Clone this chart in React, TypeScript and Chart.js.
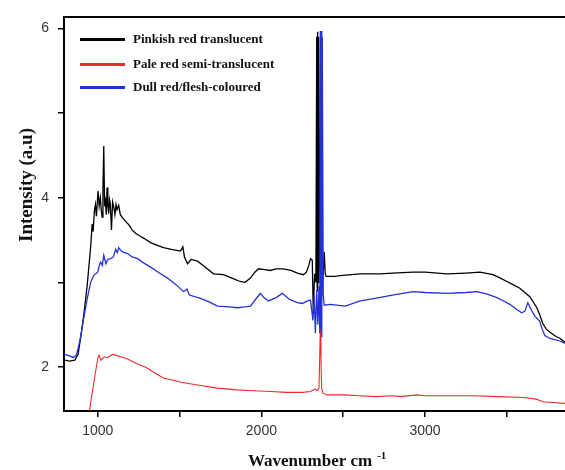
import { useEffect, useRef } from 'react';
import { Chart, registerables } from 'chart.js';

Chart.register(...registerables);

// Series names and colours (legend order)
const seriesNames = ['Pinkish red translucent', 'Pale red semi-translucent', 'Dull red/flesh-coloured'];
const seriesColors = ['#000000', '#ec2b2b', '#2430d8'];

// Pinkish red translucent (black)
const blackX = [795, 830, 860, 880, 900, 915, 935,
    957, 966, 972, 980, 986, 992, 1002, 1009, 1016, 1022,
    1027, 1032, 1037, 1042, 1047, 1052, 1057, 1062, 1067, 1072,
    1077, 1084, 1091, 1098, 1105, 1112, 1118, 1128, 1138, 1149,
    1170, 1190, 1210, 1231, 1255, 1282,
    1323, 1360, 1402, 1450, 1506, 1520, 1530, 1549, 1570, 1610, 1650, 1707,
    1768, 1820, 1870, 1900, 1933, 1960, 1982, 2020, 2055, 2090,
    2134, 2180, 2220, 2256, 2275, 2290, 2300, 2311, 2317, 2325,
    2333, 2338, 2341, 2344, 2347, 2350, 2358, 2365, 2372, 2378,
    2384, 2390, 2396, 2450, 2482, 2550, 2604, 2726, 2800, 2927,
    3000, 3134, 3250, 3335, 3415, 3460, 3500, 3540, 3579, 3610,
    3640, 3683, 3700, 3720, 3740, 3763, 3800, 3824, 3855];
const blackY = [2.08, 2.07, 2.08, 2.15, 2.4, 2.62, 2.95,
    3.42, 3.69, 3.6, 3.85, 3.92, 3.78, 4.08, 3.9, 4.0, 3.85,
    3.77, 4.1, 4.61, 3.9, 3.96, 3.8, 4.12, 3.9, 3.81, 3.98,
    3.93, 3.62, 3.95, 3.89, 3.8, 3.92, 3.86, 3.91, 3.8, 3.77,
    3.72, 3.68, 3.62, 3.58, 3.55, 3.52,
    3.47, 3.44, 3.41, 3.39, 3.37, 3.42, 3.3, 3.22, 3.27, 3.25, 3.19, 3.1,
    3.09, 3.05, 3.01, 3.0, 3.05, 3.12, 3.16, 3.15, 3.14, 3.16,
    3.16, 3.14, 3.11, 3.09, 3.12, 3.2, 3.28, 3.26, 2.63, 3.1,
    3.0, 5.9, 2.9, 5.96, 3.0, 5.9, 3.2, 2.8, 3.0, 3.1,
    3.36, 3.1, 3.07, 3.07, 3.08, 3.09, 3.1, 3.1, 3.11, 3.12,
    3.12, 3.1, 3.11, 3.12, 3.09, 3.05, 3.01, 2.97, 2.93, 2.88,
    2.83, 2.7, 2.62, 2.51, 2.45, 2.41, 2.36, 2.34, 2.29];

// Pale red semi-translucent (red)
const redX = [940, 960, 985, 1000, 1008, 1020, 1040, 1060, 1090, 1110,
    1140, 1175, 1250, 1290, 1350, 1400, 1450, 1510, 1600, 1730,
    1850, 1950, 2060, 2150, 2250, 2300, 2330, 2340, 2352, 2360,
    2364, 2368, 2375, 2400, 2500, 2600, 2700, 2800, 2850, 2950,
    3000, 3100, 3300, 3450, 3600, 3680, 3720, 3780, 3855];
const redY = [1.35, 1.62, 1.92, 2.1, 2.14, 2.08, 2.12, 2.11, 2.15, 2.14,
    2.12, 2.1, 2.03, 2.0, 1.93, 1.87, 1.85, 1.82, 1.79, 1.75,
    1.73, 1.72, 1.71, 1.7, 1.7, 1.71, 1.74, 1.72, 1.75, 2.45,
    2.1, 1.75, 1.69, 1.67, 1.67, 1.66, 1.65, 1.66, 1.65, 1.67,
    1.66, 1.66, 1.66, 1.65, 1.64, 1.62, 1.59, 1.58, 1.57];

// Dull red/flesh-coloured (blue)
const blueX = [795, 830, 850, 870, 890, 915, 935, 957, 975, 1000,
    1010, 1018, 1028, 1037, 1050, 1061, 1079, 1095, 1110, 1120,
    1128, 1140, 1152, 1183, 1210, 1244, 1280, 1323, 1370, 1427,
    1480, 1525, 1545, 1560, 1628, 1680, 1732, 1800, 1854, 1900,
    1933, 1965, 1994, 2015, 2043, 2090, 2128, 2170, 2220, 2250,
    2281, 2300, 2315, 2322, 2330, 2338, 2345, 2352, 2357, 2360,
    2363, 2366, 2369, 2372, 2378, 2384, 2421, 2512, 2604, 2695,
    2800, 2927, 3000, 3134, 3250, 3317, 3380, 3439, 3480, 3518,
    3560, 3590, 3610, 3628, 3650, 3671, 3701, 3715, 3732, 3760,
    3780, 3820, 3855];
const blueY = [2.15, 2.13, 2.11, 2.14, 2.3, 2.58, 2.8, 3.0, 3.08, 3.12,
    3.2, 3.24, 3.2, 3.32, 3.22, 3.27, 3.28, 3.3, 3.39, 3.35,
    3.41, 3.38, 3.36, 3.34, 3.3, 3.28, 3.23, 3.18, 3.12, 3.05,
    2.97, 2.89, 2.92, 2.85, 2.81, 2.77, 2.72, 2.71, 2.7, 2.71,
    2.72, 2.8, 2.87, 2.82, 2.78, 2.82, 2.87, 2.8, 2.76, 2.75,
    2.78, 2.79, 2.55, 2.85, 2.4, 2.9, 2.5, 2.95, 2.4, 5.97,
    2.45, 5.97, 2.35, 5.9, 2.85, 2.73, 2.74, 2.72, 2.78, 2.81,
    2.85, 2.89, 2.88, 2.87, 2.88, 2.89, 2.86, 2.82, 2.78, 2.74,
    2.68, 2.64, 2.66, 2.76, 2.67, 2.6, 2.54, 2.45, 2.37, 2.34,
    2.33, 2.31, 2.28];

// Tick positions and the ones that carry a label
const xTicks = [1000, 1500, 2000, 2500, 3000, 3500];
const yTicks = [2, 3, 4, 5, 6];
const xLabels = [1000, 2000, 3000];
const yLabels = [2, 4, 6];

const yTitle = 'Intensity (a.u)';
const xTitle = 'Wavenumber cm';
const xTitleSup = '-1';

const toPoints = (xs: number[], ys: number[]) => xs.map((x, i) => ({ x, y: ys[i] }));

// axis titles + legend drawn on top
const annotate = {
    id: 'annotate',
    afterDraw(chart: any) {
        const ctx = chart.ctx;
        const area = chart.chartArea;
        ctx.save();
        ctx.fillStyle = '#111';

        // y title
        ctx.save();
        ctx.font = 'bold 19px "Liberation Serif"';
        ctx.textAlign = 'center';
        ctx.textBaseline = 'middle';
        ctx.translate(27, 185);
        ctx.rotate(-Math.PI / 2);
        ctx.fillText(yTitle, 0, 0);
        ctx.restore();

        // x title with superscript
        ctx.font = 'bold 17px "Liberation Serif"';
        ctx.textAlign = 'left';
        ctx.textBaseline = 'alphabetic';
        const w = ctx.measureText(xTitle).width;
        ctx.fillText(xTitle, 248, 466);
        ctx.font = 'bold 11px "Liberation Serif"';
        ctx.fillText(xTitleSup, 248 + w + 5, 459);

        // legend
        const rows = [22, 47, 70];
        ctx.font = 'bold 13px "Liberation Serif"';
        ctx.textBaseline = 'middle';
        chart.data.datasets.forEach((ds: any, i: number) => {
            const y = area.top + rows[i];
            ctx.strokeStyle = ds.borderColor;
            ctx.lineWidth = 3;
            ctx.beginPath();
            ctx.moveTo(area.left + 16, y);
            ctx.lineTo(area.left + 61, y);
            ctx.stroke();
            ctx.fillStyle = '#111';
            ctx.fillText(ds.label, area.left + 69, y);
        });
        ctx.restore();
    }
};

export default function App() {
    const canvasRef = useRef<HTMLCanvasElement>(null);

    useEffect(() => {
        document.body.style.margin = '0';
        if (!canvasRef.current) return;

        const axisGrid = { drawOnChartArea: false, drawTicks: true, tickLength: 6, tickColor: '#000', tickWidth: 1.5, lineWidth: 1.5 };
        const axisBorder = { color: '#000', width: 2 };
        const tickFont = { family: '"Liberation Sans", Arial, sans-serif', size: 14 };

        const chart = new Chart(canvasRef.current as any, {
            type: 'line',
            data: {
                datasets: [
                    { label: seriesNames[0], data: toPoints(blackX, blackY), borderColor: seriesColors[0], backgroundColor: seriesColors[0], borderWidth: 1.3, pointRadius: 0, tension: 0, order: 1 },
                    { label: seriesNames[1], data: toPoints(redX, redY), borderColor: seriesColors[1], backgroundColor: seriesColors[1], borderWidth: 1.1, pointRadius: 0, tension: 0, order: 2 },
                    { label: seriesNames[2], data: toPoints(blueX, blueY), borderColor: seriesColors[2], backgroundColor: seriesColors[2], borderWidth: 1.3, pointRadius: 0, tension: 0, order: 0 },
                ]
            },
            options: {
                animation: false,
                responsive: true,
                maintainAspectRatio: false,
                layout: { padding: 0 },
                plugins: { legend: { display: false }, tooltip: { enabled: false } },
                scales: {
                    x: {
                        type: 'linear', position: 'bottom', min: 794, max: 3855,
                        afterBuildTicks: (s: any) => { s.ticks = xTicks.map((v) => ({ value: v })); },
                        afterFit: (s: any) => { s.height = 59; s.paddingRight = 0; },
                        ticks: {
                            autoSkip: false, maxRotation: 0, padding: 6,
                            color: '#333', font: tickFont,
                            callback: (v: any) => xLabels.includes(v) ? String(v) : ''
                        },
                        grid: axisGrid,
                        border: axisBorder
                    },
                    xTop: {
                        type: 'linear', position: 'top', min: 794, max: 3855, display: true,
                        afterFit: (s: any) => { s.height = 13; },
                        ticks: { display: false },
                        grid: { display: false },
                        border: axisBorder
                    },
                    y: {
                        type: 'linear', min: 1.48, max: 6.13,
                        afterBuildTicks: (s: any) => { s.ticks = yTicks.map((v) => ({ value: v })); },
                        afterFit: (s: any) => { s.width = 64; },
                        ticks: {
                            autoSkip: false, padding: 9,
                            color: '#333', font: tickFont,
                            callback: (v: any) => yLabels.includes(v) ? String(v) : ''
                        },
                        grid: axisGrid,
                        border: axisBorder
                    }
                }
            } as any,
            plugins: [annotate]
        });

        return () => chart.destroy();
    }, []);

    return (
        <div style={{ position: 'relative', width: '565px', height: '470px', background: '#fff' }}>
            <canvas ref={canvasRef}></canvas>
        </div>
    );
}
